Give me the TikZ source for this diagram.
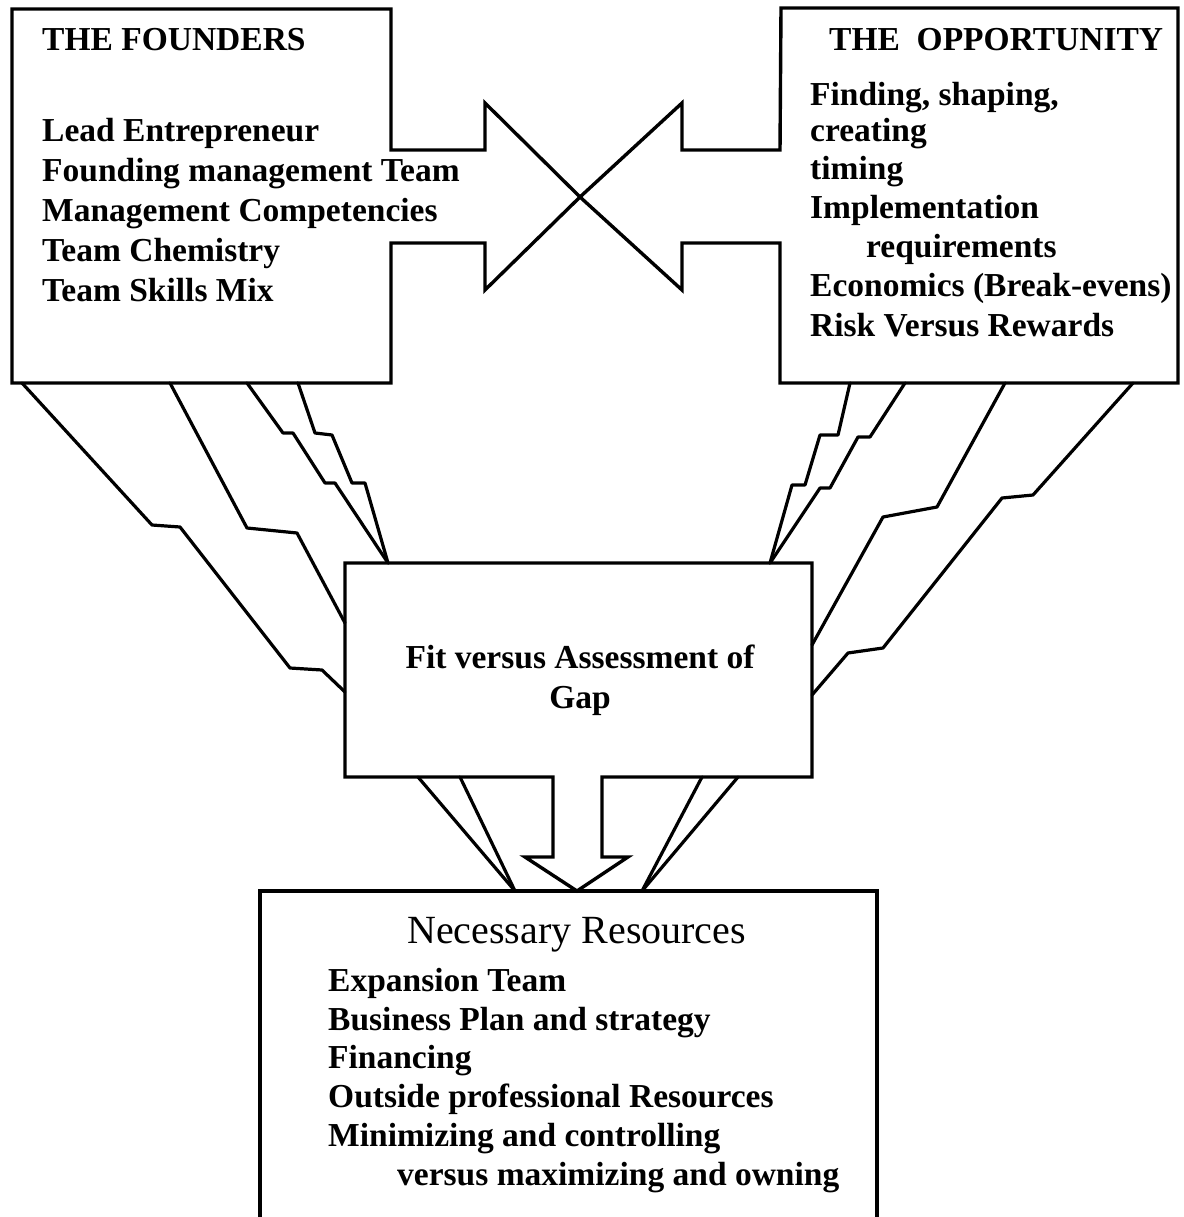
\documentclass[tikz,border=0pt]{standalone}
\usepackage{fontspec}
\setmainfont{Liberation Serif}
\begin{document}
\begin{tikzpicture}[x=1pt,y=-1pt,
  outline/.style={draw=black,line width=3.4pt,line join=miter},
  link/.style={draw=black,line width=3.2pt,line join=round,line cap=round},
  txt/.style={inner sep=0pt,anchor=base west,font=\fontsize{33.5}{40}\selectfont\bfseries},
  ctxt/.style={inner sep=0pt,anchor=base,font=\fontsize{33.5}{40}\selectfont\bfseries},
  headtxt/.style={inner sep=0pt,anchor=base west,font=\fontsize{40}{48}\selectfont}]
\useasboundingbox (0,0) rectangle (1183,1217);
\clip (0,0) rectangle (1183,1217);

% founders box merged with its right-pointing arrow
\draw[outline] (12,9) -- (391,9) -- (391,150) -- (485,150) -- (485,103)
  -- (580,197) -- (485,290) -- (485,243) -- (391,243) -- (391,383)
  -- (12,383) -- cycle;
% opportunity box merged with its left-pointing arrow
\draw[outline] (781,8) -- (1178,8) -- (1178,383) -- (780,383) -- (780,243)
  -- (682,243) -- (682,290) -- (580,197) -- (682,103) -- (682,150)
  -- (780,150) -- cycle;
% fit box with the downward arrow
\draw[outline] (345,563) -- (812,563) -- (812,777) -- (602,777) -- (602,857)
  -- (628,857) -- (577,891) -- (525,857) -- (553,857) -- (553,777)
  -- (345,777) -- cycle;
% resources box, running off the lower edge
\draw[outline] (260,1230) -- (260,891) -- (877,891) -- (877,1230);

% connection points
\coordinate (fa) at (22,383);  \coordinate (fb) at (170,383);
\coordinate (fc) at (247,383); \coordinate (fd) at (298,383);
\coordinate (oa) at (850,383); \coordinate (ob) at (905,383);
\coordinate (oc) at (1005,383); \coordinate (od) at (1133,383);
\coordinate (gl1) at (345,692); \coordinate (gl2) at (345,623);
\coordinate (gtl) at (388,563); \coordinate (gtr) at (770,563);
\coordinate (gr1) at (812,645); \coordinate (gr2) at (812,695);
\coordinate (gb1) at (418,777); \coordinate (gb2) at (460,777);
\coordinate (gb3) at (702,777); \coordinate (gb4) at (738,777);
\coordinate (rl) at (515,891); \coordinate (rr) at (642,891);

% stepped links from the founders
\draw[link] (fa) -- (152,525) -- (180,527) -- (290,668) -- (322,670) -- (gl1);
\draw[link] (fb) -- (247,528) -- (297,533) -- (gl2);
\draw[link] (fc) -- (283,433) -- (293,433) -- (325,483) -- (335,483) -- (gtl);
\draw[link] (fd) -- (315,433) -- (332,435) -- (352,483) -- (365,483) -- (gtl);
% stepped links from the opportunity
\draw[link] (oa) -- (838,435) -- (820,435) -- (805,485) -- (792,485) -- (gtr);
\draw[link] (ob) -- (870,437) -- (858,437) -- (830,488) -- (820,488) -- (gtr);
\draw[link] (oc) -- (937,507) -- (883,517) -- (gr1);
\draw[link] (od) -- (1033,495) -- (1002,498) -- (883,648) -- (848,653) -- (gr2);
% links down to the resources
\draw[link] (gb1) -- (rl);
\draw[link] (gb2) -- (rl);
\draw[link] (gb3) -- (rr);
\draw[link] (gb4) -- (rr);

% founders text
\node[txt] (ft)  at (42,51)  {THE FOUNDERS};
\node[txt] (f1)  at (42,142) {Lead Entrepreneur};
\node[txt] (f2)  at (42,182) {Founding management Team};
\node[txt] (f3)  at (42,222) {Management Competencies};
\node[txt] (f4)  at (42,261) {Team Chemistry};
\node[txt] (f5)  at (42,301) {Team Skills Mix};

% opportunity text
\node[txt] (ot)  at (829,51)  {THE\ \ OPPORTUNITY};
\node[txt] (o1)  at (810,106) {Finding, shaping,};
\node[txt] (o2)  at (810,142) {creating};
\node[txt] (o3)  at (810,180) {timing};
\node[txt] (o4)  at (810,218) {Implementation};
\node[txt] (o5)  at (866,257) {requirements};
\node[txt] (o6)  at (810,296) {Economics (Break-evens)};
\node[txt] (o7)  at (810,336) {Risk Versus Rewards};

% fit text
\node[ctxt] (g1) at (580,668) {Fit versus Assessment of};
\node[ctxt] (g2) at (580,708) {Gap};

% resources text
\node[headtxt] (rt) at (407,943) {Necessary Resources};
\node[txt] (r1) at (328,991)  {Expansion Team};
\node[txt] (r2) at (328,1030) {Business Plan and strategy};
\node[txt] (r3) at (328,1068) {Financing};
\node[txt] (r4) at (328,1107) {Outside professional Resources};
\node[txt] (r5) at (328,1146) {Minimizing and controlling};
\node[txt] (r6) at (397,1185) {versus maximizing and owning};
\end{tikzpicture}
\end{document}
